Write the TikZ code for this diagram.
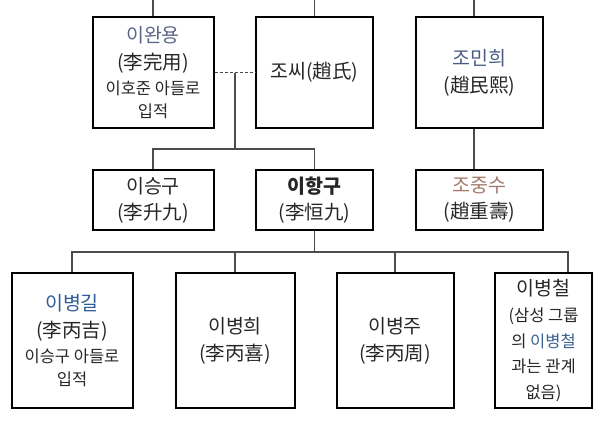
\documentclass[tikz,border=0pt]{standalone}
\usepackage{fontspec}
\setmainfont{Noto Sans CJK KR}
\usetikzlibrary{positioning}
\definecolor{wan}{HTML}{5A6585}
\definecolor{min}{HTML}{4A5C85}
\definecolor{jung}{HTML}{A07A6C}
\definecolor{gil}{HTML}{2E5C9A}
\definecolor{chul}{HTML}{3A6090}
\newcommand{\notetext}[1]{{\fontsize{16.5}{24}\selectfont #1}}

\begin{document}
\begin{tikzpicture}[x=1pt,y=-1pt,
  box/.style={draw=black,line width=2pt,align=center,inner sep=0pt,text=black!85,font=\fontsize{19.5}{27}\selectfont},
  link/.style={draw=black!70,line width=1.3pt}]
  \useasboundingbox (0,0) rectangle (600,432);
  % top row
  \node (1) at (153,72.5)[box,minimum width=121pt,minimum height=111pt]{\textcolor{wan}{이완용}\\(李完用)\\[-2pt]\notetext{이호준 아들로}\\[-4pt]\notetext{입적}};
  \node (2) at (314.5,72.5)[box,minimum width=117pt,minimum height=111pt]{조씨(趙氏)};
  \node (3) at (479.5,72.5)[box,minimum width=127pt,minimum height=111pt]{\textcolor{min}{조민희}\\(趙民熙)};
  % second row
  \node (4) at (153,200)[box,minimum width=121pt,minimum height=60pt]{이승구\\[-1pt](李升九)};
  \node (5) at (314.5,200)[box,minimum width=117pt,minimum height=60pt]{\bfseries 이항구\\[-1pt](李恒九)};
  \node (6) at (479.5,200)[box,minimum width=127pt,minimum height=60pt]{\textcolor{jung}{조중수}\\[-1pt](趙重壽)};
  % third row
  \node (7) at (72,340.5)[box,minimum width=121pt,minimum height=135pt]{\textcolor{gil}{이병길}\\(李丙吉)\\[-2pt]\notetext{이승구 아들로}\\[-4pt]\notetext{입적}};
  \node (8) at (235,340.5)[box,minimum width=119pt,minimum height=135pt]{이병희\\(李丙喜)};
  \node (9) at (395,340.5)[box,minimum width=117pt,minimum height=135pt]{이병주\\(李丙周)};
  \node (10) at (543.5,340.5)[box,minimum width=97pt,minimum height=135pt]{이병철\\[-1pt]\notetext{(삼성 그룹}\\[-1.5pt]\notetext{의 \textcolor{chul}{이병철}}\\[-1.5pt]\notetext{과는 관계}\\[-1.5pt]\notetext{없음)}};
  \coordinate (t1) at (153,0);
  \coordinate (t2) at (314.5,0);
  \coordinate (t3) at (474,0);
  \coordinate (j1) at (235,149);
  \coordinate (j2) at (314.5,252);
  \draw[link](t1)--(1.north);
  \draw[link](t2)--(2.north);
  \draw[link](t3)--([xshift=-5.5pt]3.north);
  \draw[link,dash pattern=on 3pt off 2pt](1.east)--(2.west);
  \draw[link](j1 |- 1.east)--(j1);
  \draw[link](4.north)|-(j1)-|(5.north);
  \draw[link]([xshift=-5.5pt]3.south)--([xshift=-5.5pt]6.north);
  \draw[link](5.south)--(j2);
  \draw[link](7.north)|-(j2)-|([xshift=24.5pt]10.north);
  \draw[link](8.north)--(8.north |- j2);
  \draw[link](9.north)--(9.north |- j2);
\end{tikzpicture}
\end{document}
